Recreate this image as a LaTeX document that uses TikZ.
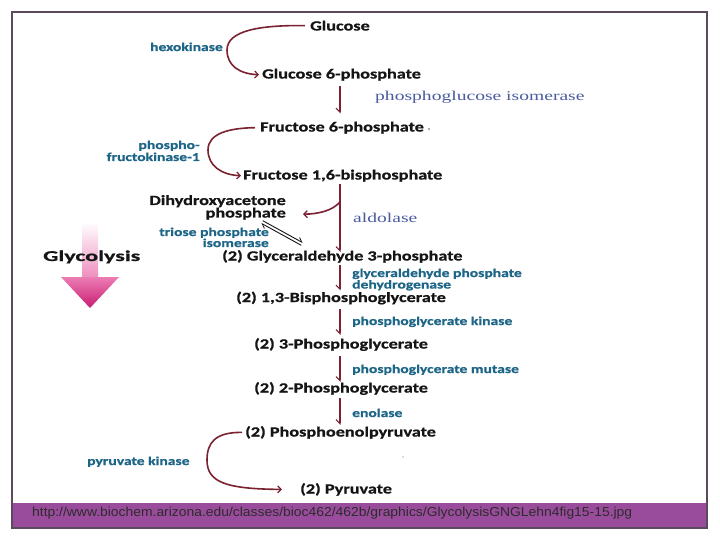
\documentclass[tikz,border=0pt]{standalone}
\usepackage{fontspec}
\setmainfont{Carlito}[FakeStretch=1.3]
\newfontfamily\heavy{Carlito}[FakeStretch=1.3, BoldFeatures={FakeBold=0.8}]
\newfontfamily\serlab{Liberation Serif}[FakeStretch=1.45]
\newfontfamily\urlf{Liberation Sans}
\usetikzlibrary{arrows.meta,calc}
\definecolor{maroonc}{HTML}{7B2232}
\definecolor{inkc}{HTML}{151515}
\definecolor{tealc}{HTML}{1E6688}
\definecolor{slatec}{HTML}{4A5BA0}
\definecolor{framec}{HTML}{5B4A5C}
\definecolor{bandc}{HTML}{9A4C9C}
\definecolor{pinklight}{HTML}{EE8DBE}
\definecolor{pinkdark}{HTML}{C81E72}
\definecolor{pinkmid}{HTML}{EC7CB4}
\tikzset{
  met/.style={font=\heavy\bfseries\fontsize{14}{15}\selectfont, text=inkc, inner sep=0pt, anchor=base west},
  metr/.style={met, anchor=base east},
  enz/.style={font=\heavy\bfseries\fontsize{12}{13}\selectfont, text=tealc, inner sep=0pt, anchor=base west},
  enzr/.style={enz, anchor=base east},
  ser/.style={font=\serlab\fontsize{13.5}{15}\selectfont, text=slatec, inner sep=0pt, anchor=base west},
  vstep/.style={draw=maroonc, line width=2.6pt, -{Straight Barb[harpoon,swap,length=4pt,width=8pt,line width=1.1pt]}},
  curv/.style={draw=maroonc, line width=1.6pt, -{Straight Barb[length=3.5pt,width=7pt,line width=1.2pt]}},
  eqline/.style={draw=inkc, line width=0.9pt, -{Straight Barb[harpoon,length=4pt,width=6pt,line width=0.8pt]}}
}
\begin{document}
\begin{tikzpicture}[x=1pt,y=-1pt]
\fill[white] (0,0) rectangle (720,540);
\useasboundingbox (0,0) rectangle (720,540);
% frame and band
\fill[bandc] (12,503) rectangle (707,528);
\draw[framec, line width=1.2pt] (12,12) rectangle (707,528);
\node[font=\urlf\fontsize{13}{14}\selectfont, text=inkc!90, inner sep=0pt, anchor=base west] (url) at (32,516.5)
  {\resizebox{600pt}{\height}{http://www.biochem.arizona.edu/classes/bioc462/462b/graphics/GlycolysisGNGLehn4fig15-15.jpg}};

% big pink arrow
\shade[top color=white, bottom color=pinklight] (82,222) rectangle (98,278);
\shade[top color=pinkmid, bottom color=pinkdark] (61,277) -- (119,277) -- (90,308) -- cycle;
\node[met, font=\heavy\bfseries\fontsize{15}{16}\selectfont] (glyco) at (43,261) {\resizebox{97pt}{\height}{Glycolysis}};

% metabolites
\node[met] (glc) at (310,30.5) {Glucose};
\node[met] (g6p) at (262,78.5) {Glucose 6-phosphate};
\node[met] (f6p) at (260,131.5) {Fructose 6-phosphate};
\node[met] (f16) at (243,179.5) {Fructose 1,6-bisphosphate};
\node[metr] (dhap1) at (286,205) {Dihydroxyacetone};
\node[metr] (dhap2) at (286,217.5) {phosphate};
\node[met] (g3p) at (222,260.5) {(2) Glyceraldehyde 3-phosphate};
\node[met] (bpg) at (236,302) {(2) 1,3-Bisphosphoglycerate};
\node[met] (pg3) at (254,348.5) {(2) 3-Phosphoglycerate};
\node[met] (pg2) at (254,392.5) {(2) 2-Phosphoglycerate};
\node[met] (pep) at (245,436.5) {(2) Phosphoenolpyruvate};
\node[met] (pyr) at (300,493.5) {(2) Pyruvate};

% enzymes
\node[enzr] (hk) at (223,51) {hexokinase};
\node[ser] (pgi) at (375,100.5) {phosphoglucose isomerase};
\node[enzr] (pfka) at (200,149) {phospho-};
\node[enzr] (pfkb) at (200,161) {fructokinase-1};
\node[ser] (ald) at (353,222.5) {aldolase};
\node[enzr] (tpia) at (269,236) {triose phosphate};
\node[enzr] (tpib) at (269,247) {isomerase};
\node[enz] (gapa) at (352,277) {glyceraldehyde phosphate};
\node[enz] (gapb) at (352,288.5) {dehydrogenase};
\node[enz] (pgk) at (352,325) {phosphoglycerate kinase};
\node[enz] (pgm) at (352,373) {phosphoglycerate mutase};
\node[enz] (eno) at (352,417) {enolase};
\node[enz] (pk) at (87,465) {pyruvate kinase};

% small dots
\fill[inkc!70] (429,129) circle (0.9);
\fill[inkc!60] (403,457) circle (0.7);

% column for vertical arrows
\coordinate (col) at (340,0);
\draw[vstep, shorten <=5pt, shorten >=8pt] (g6p.south -| col) -- (f6p.north -| col);
\draw[vstep, shorten <=2pt, shorten >=-2pt] (f16.south -| col) -- (g3p.north -| col);
\draw[vstep, shorten <=2pt, shorten >=1pt] (g3p.south -| col) -- (bpg.north -| col);
\draw[vstep, shorten <=4pt, shorten >=3pt] (bpg.south -| col) -- (pg3.north -| col);
\draw[vstep, shorten <=5pt, shorten >=0pt] (pg3.south -| col) -- (pg2.north -| col);
\draw[vstep, shorten <=3pt, shorten >=1pt] (pg2.south -| col) -- (pep.north -| col);

% aldolase branch to DHAP
\coordinate (br) at (340,202);
\draw[curv] (br) .. controls (332,211) and (318,214) .. ($(dhap2.east)+(17,0.5)$);

% triose phosphate isomerase equilibrium
\coordinate (te1) at (262,222);
\coordinate (te2) at (302,244);
\draw[eqline] ($(te2)!1.5pt!90:(te1)$) -- ($(te1)!1.5pt!-90:(te2)$);
\draw[eqline] ($(te1)!1.5pt!90:(te2)$) -- ($(te2)!1.5pt!-90:(te1)$);

% curved arrows
\draw[curv] ($(glc.west)+(-5,0)$) .. controls (262,25) and (227,30) .. (227,50)
  .. controls (227,66) and (240,74) .. ($(g6p.west)+(-3,0)$);
\draw[curv] ($(f6p.west)+(-5,0)$) .. controls (230,128) and (208,133) .. (208,150)
  .. controls (208,166) and (222,175) .. ($(f16.west)+(-2,0)$);
\draw[curv] ($(pep.west)+(-3,0)$) .. controls (215,432) and (207,443) .. (207,460)
  .. controls (207,482) and (225,489) .. ($(pyr.west)+(-18,0)$);
\end{tikzpicture}
\end{document}
